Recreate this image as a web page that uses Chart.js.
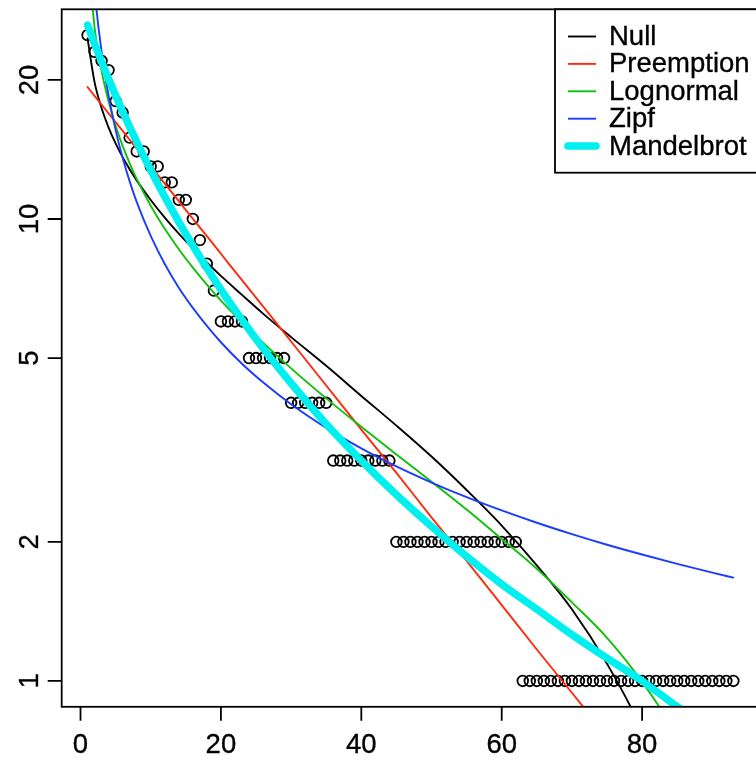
<!DOCTYPE html>
<html>
<head>
<meta charset="utf-8">
<script src="https://cdn.jsdelivr.net/npm/chart.js@4/dist/chart.umd.min.js"></script>
<style>
  html, body { margin: 0; padding: 0; background: #fff; overflow: hidden; width: 756px; height: 763px; }
  #wrap { position: relative; width: 772px; height: 763px; }
  canvas { display: block; }
</style>
</head>
<body>
<div id="wrap"><canvas id="rad" width="772" height="763"></canvas></div>
<script>
// Observed abundances, ranked from most to least abundant species
const abundance = [
  25, 23, 22, 21, 18, 17, 15, 14, 14, 13, 13, 12, 12, 11, 11, 10, 9, 8, 7,
  6, 6, 6, 6,
  5, 5, 5, 5, 5, 5,
  4, 4, 4, 4, 4, 4,
  3, 3, 3, 3, 3, 3, 3, 3, 3,
  2, 2, 2, 2, 2, 2, 2, 2, 2, 2, 2, 2, 2, 2, 2, 2, 2, 2,
  1, 1, 1, 1, 1, 1, 1, 1, 1, 1, 1, 1, 1, 1, 1, 1, 1, 1, 1, 1, 1, 1, 1, 1, 1, 1, 1, 1, 1, 1, 1
];
const ranks = abundance.map((_, i) => i + 1);

// Ranks at which the fitted rank-abundance models are sampled
const fitRanks = [1, 2, 3, 4, 5, 6, 7, 8, 10, 12, 14, 16, 18, 20, 23, 26, 30, 35, 40, 45, 50, 55, 60, 65, 70, 75, 80, 85, 90, 93];

const nullFit = [24.59, 19.78, 17.38, 15.77, 14.57, 13.61, 12.81, 12.12, 10.99, 10.07, 9.30, 8.64, 8.05, 7.53, 6.85, 6.24, 5.55, 4.81, 4.14, 3.57, 3.06, 2.59, 2.17, 1.78, 1.43, 1.09, 0.78, 0.49, 0.21, 0.052];
const preemptionFit = [19.3, 18.47, 17.68, 16.93, 16.20, 15.51, 14.84, 14.21, 13.02, 11.93, 10.93, 10.01, 9.18, 8.41, 7.37, 6.47, 5.43, 4.36, 3.50, 2.82, 2.26, 1.82, 1.46, 1.17, 0.943, 0.758, 0.609, 0.489, 0.393, 0.345];
const lognormalFit = [39.4, 25.96, 20.92, 17.96, 15.91, 14.39, 13.19, 12.21, 10.68, 9.52, 8.60, 7.85, 7.21, 6.66, 5.98, 5.40, 4.75, 4.09, 3.55, 3.09, 2.70, 2.35, 2.03, 1.75, 1.48, 1.24, 0.995, 0.752, 0.477, 0.217];
const zipfFit = [53.3, 31.4, 23.03, 18.49, 15.59, 13.57, 12.06, 10.89, 9.19, 7.99, 7.10, 6.42, 5.87, 5.41, 4.86, 4.43, 3.97, 3.53, 3.187, 2.913, 2.688, 2.499, 2.339, 2.200, 2.079, 1.972, 1.878, 1.793, 1.716, 1.674];
const mandelbrotFit = [26.29, 23.95, 21.90, 20.10, 18.51, 17.08, 15.82, 14.69, 12.76, 11.17, 9.86, 8.76, 7.83, 7.03, 6.05, 5.25, 4.41, 3.60, 3.00, 2.53, 2.16, 1.86, 1.62, 1.43, 1.26, 1.12, 1.0, 0.88, 0.78, 0.73];

const modelNames = ['Null', 'Preemption', 'Lognormal', 'Zipf', 'Mandelbrot'];
const xTicks = [0, 20, 40, 60, 80];
const yTicks = [1, 2, 5, 10, 20];

const modelColors = ['#000000', '#ff2a0c', '#10c00a', '#1c3cff', '#00f0f0'];
const modelWidths = [1.9, 1.9, 1.9, 1.9, 7.5];

// axis ranges padded by 4% like base graphics
const nSp = ranks.length;
const xPad = 0.04 * (nSp - 1);
const lmin = Math.log10(1), lmax = Math.log10(Math.max(...abundance));
const lPad = 0.04 * (lmax - lmin);

const pairs = (xs, ys) => xs.map((x, i) => ({ x, y: ys[i] }));
const fits = [nullFit, preemptionFit, lognormalFit, zipfFit, mandelbrotFit];

const FONT = '27.5px "Liberation Sans", Arial, Helvetica, sans-serif';

const datasets = [{
  label: 'Observed',
  data: pairs(ranks, abundance),
  showLine: false,
  pointStyle: 'circle',
  pointRadius: 5.3,
  pointBorderWidth: 1.8,
  pointBorderColor: '#000',
  pointBackgroundColor: 'rgba(0,0,0,0)',
  order: 10,
  clip: 0
}];
fits.forEach((f, i) => {
  datasets.push({
    label: modelNames[i],
    data: pairs(fitRanks, f),
    borderColor: modelColors[i],
    borderWidth: modelWidths[i],
    pointRadius: 0,
    fill: false,
    cubicInterpolationMode: 'monotone',
    borderCapStyle: 'round',
    order: 5 - i,
    clip: 0
  });
});

// text with a faint outline so the glyph weight resembles base graphics output
function label(ctx, text, x, y) {
  ctx.strokeText(text, x, y);
  ctx.fillText(text, x, y);
}

// frame, R-style axes and legend
const decorations = {
  id: 'decorations',
  afterDraw(chart) {
    const { ctx, chartArea: a, scales: { x, y } } = chart;
    ctx.save();
    ctx.strokeStyle = '#000';
    ctx.lineWidth = 1.8;
    ctx.strokeRect(a.left, a.top, a.right - a.left, a.bottom - a.top);

    ctx.beginPath();
    xTicks.forEach(v => {
      const px = x.getPixelForValue(v);
      ctx.moveTo(px, a.bottom); ctx.lineTo(px, a.bottom + 14);
    });
    yTicks.forEach(v => {
      const py = y.getPixelForValue(v);
      ctx.moveTo(a.left, py); ctx.lineTo(a.left - 14, py);
    });
    ctx.stroke();

    ctx.fillStyle = '#000';
    ctx.font = FONT;
    ctx.textAlign = 'center';
    ctx.textBaseline = 'middle';
    ctx.lineWidth = 0.35;
    xTicks.forEach(v => label(ctx, String(v), x.getPixelForValue(v), a.bottom + 39));
    yTicks.forEach(v => {
      ctx.save();
      ctx.translate(a.left - 31, y.getPixelForValue(v));
      ctx.rotate(-Math.PI / 2);
      label(ctx, String(v), 0, 0);
      ctx.restore();
    });

    // legend in the top-right corner
    const lx = 555, ly = a.top, lb = 172.7;
    ctx.lineWidth = 1.8;
    ctx.fillStyle = '#fff';
    ctx.fillRect(lx, ly, a.right - lx, lb - ly);
    ctx.strokeRect(lx, ly, a.right - lx, lb - ly);
    ctx.textAlign = 'left';
    modelNames.forEach((name, i) => {
      const ry = 36.5 + i * 27.4;
      ctx.strokeStyle = modelColors[i];
      ctx.lineWidth = modelWidths[i];
      ctx.lineCap = i === 4 ? 'round' : 'butt';
      ctx.beginPath();
      ctx.moveTo(568, ry); ctx.lineTo(596, ry);
      ctx.stroke();
      ctx.fillStyle = '#000';
      ctx.strokeStyle = '#000';
      ctx.lineWidth = 0.35;
      label(ctx, name, 609, ry + 1);
    });
    ctx.restore();
  }
};

new Chart(document.getElementById('rad'), {
  type: 'line',
  data: { datasets },
  options: {
    responsive: false,
    animation: false,
    devicePixelRatio: 1,
    events: [],
    layout: { padding: { left: 61.7, right: 772 - 759.2, top: 9.3, bottom: 763 - 706.8 } },
    scales: {
      x: {
        type: 'linear',
        display: false,
        bounds: 'data',
        min: 1 - xPad,
        max: nSp + xPad
      },
      y: {
        type: 'logarithmic',
        display: false,
        bounds: 'data',
        min: Math.pow(10, lmin - lPad),
        max: Math.pow(10, lmax + lPad)
      }
    },
    plugins: { legend: { display: false }, tooltip: { enabled: false } }
  },
  plugins: [decorations]
});
</script>
</body>
</html>
